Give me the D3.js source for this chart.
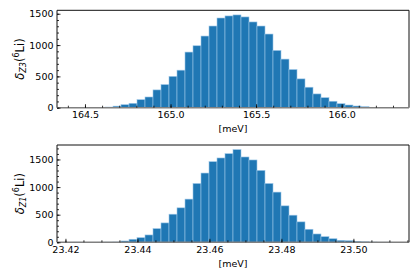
<!DOCTYPE html>
<html><head><meta charset="utf-8">
<script src="https://cdn.jsdelivr.net/npm/d3@7"></script>
<style>
body{margin:0;background:#fff}
svg{display:block}
text{font-family:"DejaVu Sans",sans-serif;fill:#000}
</style>
</head><body>
<svg id="c" width="420" height="280"></svg>
<script>
// ---- data ----
const z3Counts = [1,0,1,3,10,25,48,70,128,171,284,369,500,599,888,989,1144,1304,1432,1465,
                  1481,1449,1369,1304,1176,914,776,609,460,327,220,160,103,64,43,27,16,6,2,1];
const z3Range = [164.43, 166.30];
const z3Ticks = [164.5, 165.0, 165.5, 166.0];
const z3Minor = d3.range(164.4, 166.4001, 0.1);

const z1Counts = [1,0,0,1,3,5,24,55,84,133,248,351,509,624,782,1065,1254,1460,1527,1605,
                  1678,1545,1491,1302,1065,909,660,491,370,236,151,102,65,36,29,18,9,4,1,1];
const z1Range = [23.4221, 23.5110];
const z1Ticks = [23.42, 23.44, 23.46, 23.48, 23.50];
const z1Minor = d3.range(23.415, 23.5201, 0.005);

const yTicks = [0, 500, 1000, 1500];
const yMinor = d3.range(0, 1801, 100);

const panels = [
  {counts: z3Counts, range: z3Range, ticks: z3Ticks, minor: z3Minor, fmt: d3.format(".1f"),
   sub: "Z3", top: 10.3, bottom: 107.7},
  {counts: z1Counts, range: z1Range, ticks: z1Ticks, minor: z1Minor, fmt: d3.format(".2f"),
   sub: "Z1", top: 145, bottom: 242.3}
];

const svg = d3.select("#c");
const L = 57, R = 409, FS = 9.5, LFS = 11.5;

panels.forEach(p => {
  const n = p.counts.length;
  const w = (p.range[1] - p.range[0]) / n;
  const pad = 0.05 * (p.range[1] - p.range[0]);
  const x = d3.scaleLinear().domain([p.range[0] - pad, p.range[1] + pad]).range([L, R]);
  const ymax = d3.max(p.counts) * 1.05;
  const y = d3.scaleLinear().domain([0, ymax]).range([p.bottom, p.top]);
  const g = svg.append("g");

  // bars
  g.selectAll("rect.bar").data(p.counts).join("rect")
    .attr("class", "bar")
    .attr("x", (d, i) => x(p.range[0] + i * w))
    .attr("width", (d, i) => x(p.range[0] + (i + 1) * w) - x(p.range[0] + i * w))
    .attr("y", d => y(d))
    .attr("height", d => y(0) - y(d))
    .attr("fill", "#1f77b4")
    .attr("stroke", "#9cc6e8")
    .attr("stroke-width", 0.6);

  // spines
  g.append("line").attr("x1", L).attr("x2", R).attr("y1", p.top).attr("y2", p.top)
    .attr("stroke", "#111").attr("stroke-width", 1);
  g.append("line").attr("x1", L).attr("x2", L).attr("y1", p.top).attr("y2", p.bottom)
    .attr("stroke", "#111").attr("stroke-width", 1);
  g.append("line").attr("x1", R).attr("x2", R).attr("y1", p.top).attr("y2", p.bottom)
    .attr("stroke", "#111").attr("stroke-width", 1);
  g.append("line").attr("x1", L).attr("x2", R).attr("y1", p.bottom).attr("y2", p.bottom)
    .attr("stroke", "#808080").attr("stroke-width", 1.6);

  // x axis
  const xa = g.append("g").attr("transform", `translate(0,${p.bottom})`)
    .call(d3.axisBottom(x).tickValues(p.ticks).tickSize(-3.5).tickPadding(4).tickFormat(p.fmt));
  const xm = g.append("g").attr("transform", `translate(0,${p.bottom})`)
    .call(d3.axisBottom(x).tickValues(p.minor.filter(v => x(v) > L + 0.5 && x(v) < R - 0.5))
      .tickSize(-2).tickFormat(""));
  // y axis
  const ya = g.append("g").attr("transform", `translate(${L},0)`)
    .call(d3.axisLeft(y).tickValues(yTicks).tickSize(-3.5).tickPadding(3.5).tickFormat(d => String(d)));
  const ym = g.append("g").attr("transform", `translate(${L},0)`)
    .call(d3.axisLeft(y).tickValues(yMinor.filter(v => v < ymax)).tickSize(-2).tickFormat(""));
  [xa, xm, ya, ym].forEach(a => {
    a.select(".domain").remove();
    a.selectAll(".tick line").attr("stroke", "#000").attr("stroke-width", 0.8);
    a.selectAll(".tick text").attr("font-size", FS).attr("font-family", "DejaVu Sans").attr("fill", "#000");
  });

  // x label
  g.append("text").attr("x", (L + R) / 2).attr("y", p.bottom + 24.5)
    .attr("text-anchor", "middle").attr("font-size", FS).text("[meV]");

  // y label
  const cy = (p.top + p.bottom) / 2;
  const t = g.append("text").attr("transform", `translate(23.5,${cy}) rotate(-90)`)
    .attr("text-anchor", "middle").attr("font-size", LFS);
  t.append("tspan").attr("font-style", "italic").text("δ");
  t.append("tspan").attr("font-style", "italic").attr("font-size", LFS * 0.7)
    .attr("dy", 2.4).text(p.sub);
  t.append("tspan").attr("dy", -2.4).text("(");
  t.append("tspan").attr("font-size", LFS * 0.7).attr("dy", -4.2).text("6");
  t.append("tspan").attr("dy", 4.2).text("Li)");
});
</script>
</body></html>
